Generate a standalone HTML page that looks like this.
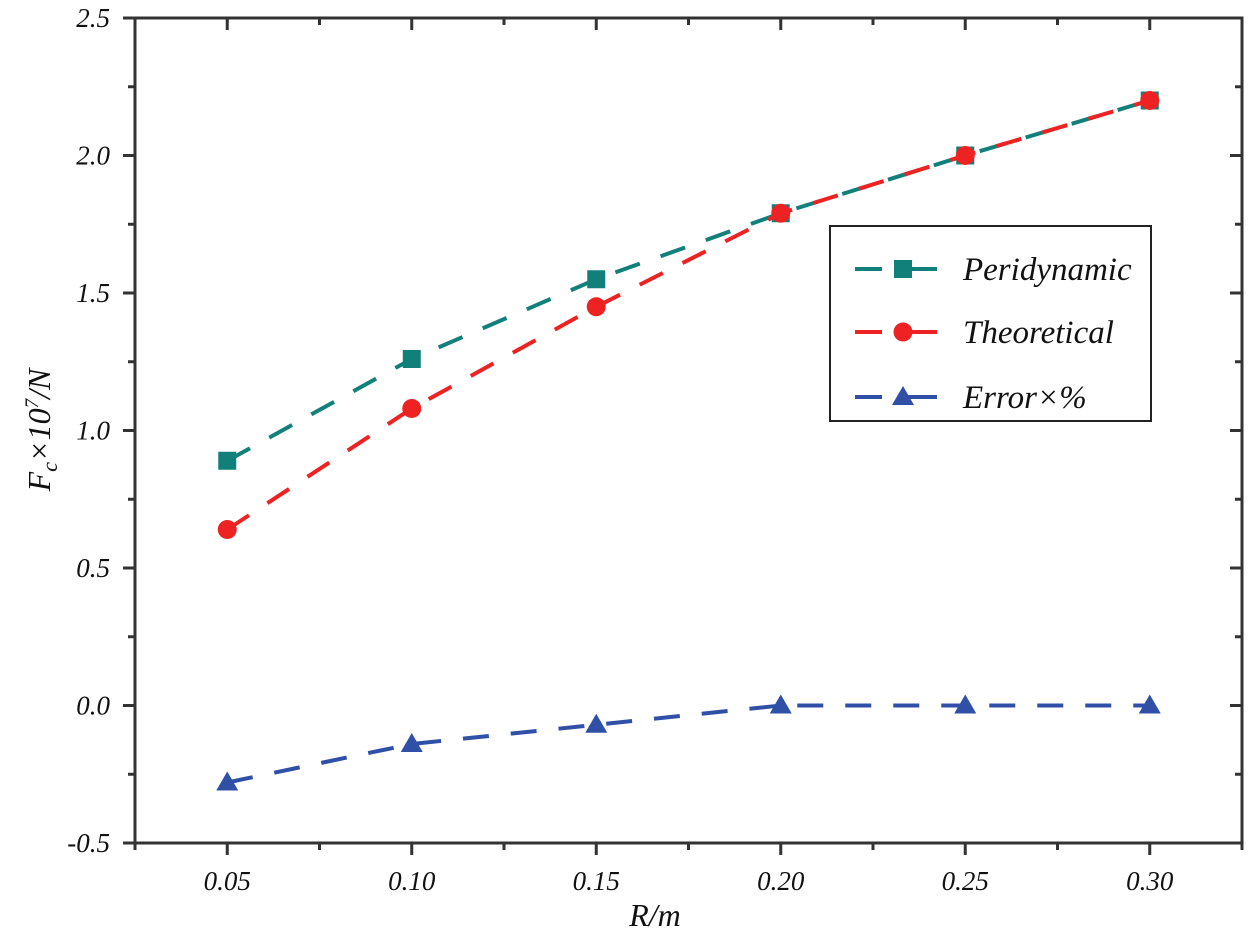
<!DOCTYPE html>
<html><head><meta charset="utf-8"><style>
body{margin:0;background:#fff}
svg text{font-family:"Liberation Serif",serif;font-style:italic;fill:#111}
</style></head><body>
<svg id="chart" width="1250" height="939" xmlns="http://www.w3.org/2000/svg">
<g id="ticks"></g>
<g id="series"></g>
<rect x="135" y="18" width="1107" height="825" fill="none" stroke="#333" stroke-width="3"/>
<text x="655" y="926" font-size="32" text-anchor="middle">R/m</text>
<text transform="translate(50,430) rotate(-90)" font-size="32" text-anchor="middle">F<tspan font-size="22" dy="7">c</tspan><tspan dy="-7">×10</tspan><tspan font-size="19" dy="-12">7</tspan><tspan dy="12">/N</tspan></text>
<g>
<rect x="830" y="226" width="321" height="195" fill="#fff" stroke="#222" stroke-width="2"/>
<g id="legend-items"></g>
</g>
</svg>
<script>
const categories=[0.05,0.10,0.15,0.20,0.25,0.30];
const peridynamic=[0.89,1.26,1.55,1.79,2.00,2.20];
const theoretical=[0.64,1.08,1.45,1.79,2.00,2.20];
const errorPct=[-0.28,-0.14,-0.07,0,0,0];
const yTickLabels=["-0.5","0.0","0.5","1.0","1.5","2.0","2.5"];
const xTickLabels=["0.05","0.10","0.15","0.20","0.25","0.30"];
const seriesNames=["Peridynamic","Theoretical","Error×%"];

const NS="http://www.w3.org/2000/svg";
const X0=135,X1=1242,Y0=843,Y1=18,xmin=0.025,xmax=0.325,ymin=-0.5,ymax=2.5;
const xs=v=>X0+(v-xmin)/(xmax-xmin)*(X1-X0);
const ys=v=>Y0-(v-ymin)/(ymax-ymin)*(Y0-Y1);
function mk(tag,attrs,parent){const e=document.createElementNS(NS,tag);for(const k in attrs)e.setAttribute(k,attrs[k]);parent.appendChild(e);return e;}
const tg=document.getElementById('ticks');
for(let i=0;i<=12;i++){const v=ymin+i*0.25;const y=ys(v);const major=i%2===0;const L=major?12:7;
 const t=mk('line',{x1:X0-L,x2:X0,y1:y,y2:y,stroke:'#333','stroke-width':3},tg);
 
 
 const r=mk('line',{x1:X1,x2:X1-L,y1:y,y2:y,stroke:'#333','stroke-width':3},tg);
 
 
 if(major){const tx=mk('text',{x:110,y:y+9,'font-size':27,'text-anchor':'end'},tg);tx.textContent=yTickLabels[i/2];
  
  }
}
for(let i=0;i<=12;i++){const v=xmin+i*0.025;const x=xs(v);const major=i%2===1;const L=major?12:7;
 const t=mk('line',{x1:x,x2:x,y1:Y0,y2:Y0+L,stroke:'#333','stroke-width':3},tg);
 
 
 const r=mk('line',{x1:x,x2:x,y1:Y1,y2:Y1+L,stroke:'#333','stroke-width':3},tg);
 
 
 if(major){const tx=mk('text',{x:x,y:890,'font-size':27,'text-anchor':'middle'},tg);tx.textContent=xTickLabels[(i-1)/2];
  
  }
}
const colors=["#12807a","#ee2222","#3050a8"];
const data=[peridynamic,theoretical,errorPct];
const sg=document.getElementById('series');
function marker(kind,x,y,c,parent){
 let m;
 if(kind===0)m=mk('rect',{x:x-9,y:y-9,width:18,height:18,fill:c},parent);
 else if(kind===1)m=mk('circle',{cx:x,cy:y,r:9.5,fill:c},parent);
 else m=mk('polygon',{points:`${x},${y-11} ${x+11},${y+8} ${x-11},${y+8}`,fill:c},parent);
 return m;
}
data.forEach((arr,s)=>{
 const g=mk('g',{},sg);
 
 
 const pts=arr.map((v,i)=>xs(categories[i])+','+ys(v)).join(' ');
 const pl=mk('polyline',{points:pts,fill:'none',stroke:colors[s],'stroke-width':4,'stroke-dasharray':'26,22'},g);
 
 
 arr.forEach((v,i)=>{const m=marker(s,xs(categories[i]),ys(v),colors[s],g);
  
  });
});
const lg=document.getElementById('legend-items');
const ly=[269,332,397];
seriesNames.forEach((n,s)=>{
 const g=mk('g',{},lg);
 
 
 mk('line',{x1:855,x2:882,y1:ly[s],y2:ly[s],stroke:colors[s],'stroke-width':4},g);
 mk('line',{x1:903,x2:937,y1:ly[s],y2:ly[s],stroke:colors[s],'stroke-width':4},g);
 marker(s,903,ly[s],colors[s],g);
 const t=mk('text',{x:963,y:ly[s]+11,'font-size':33},g);t.textContent=n;
});
</script>
</body></html>
